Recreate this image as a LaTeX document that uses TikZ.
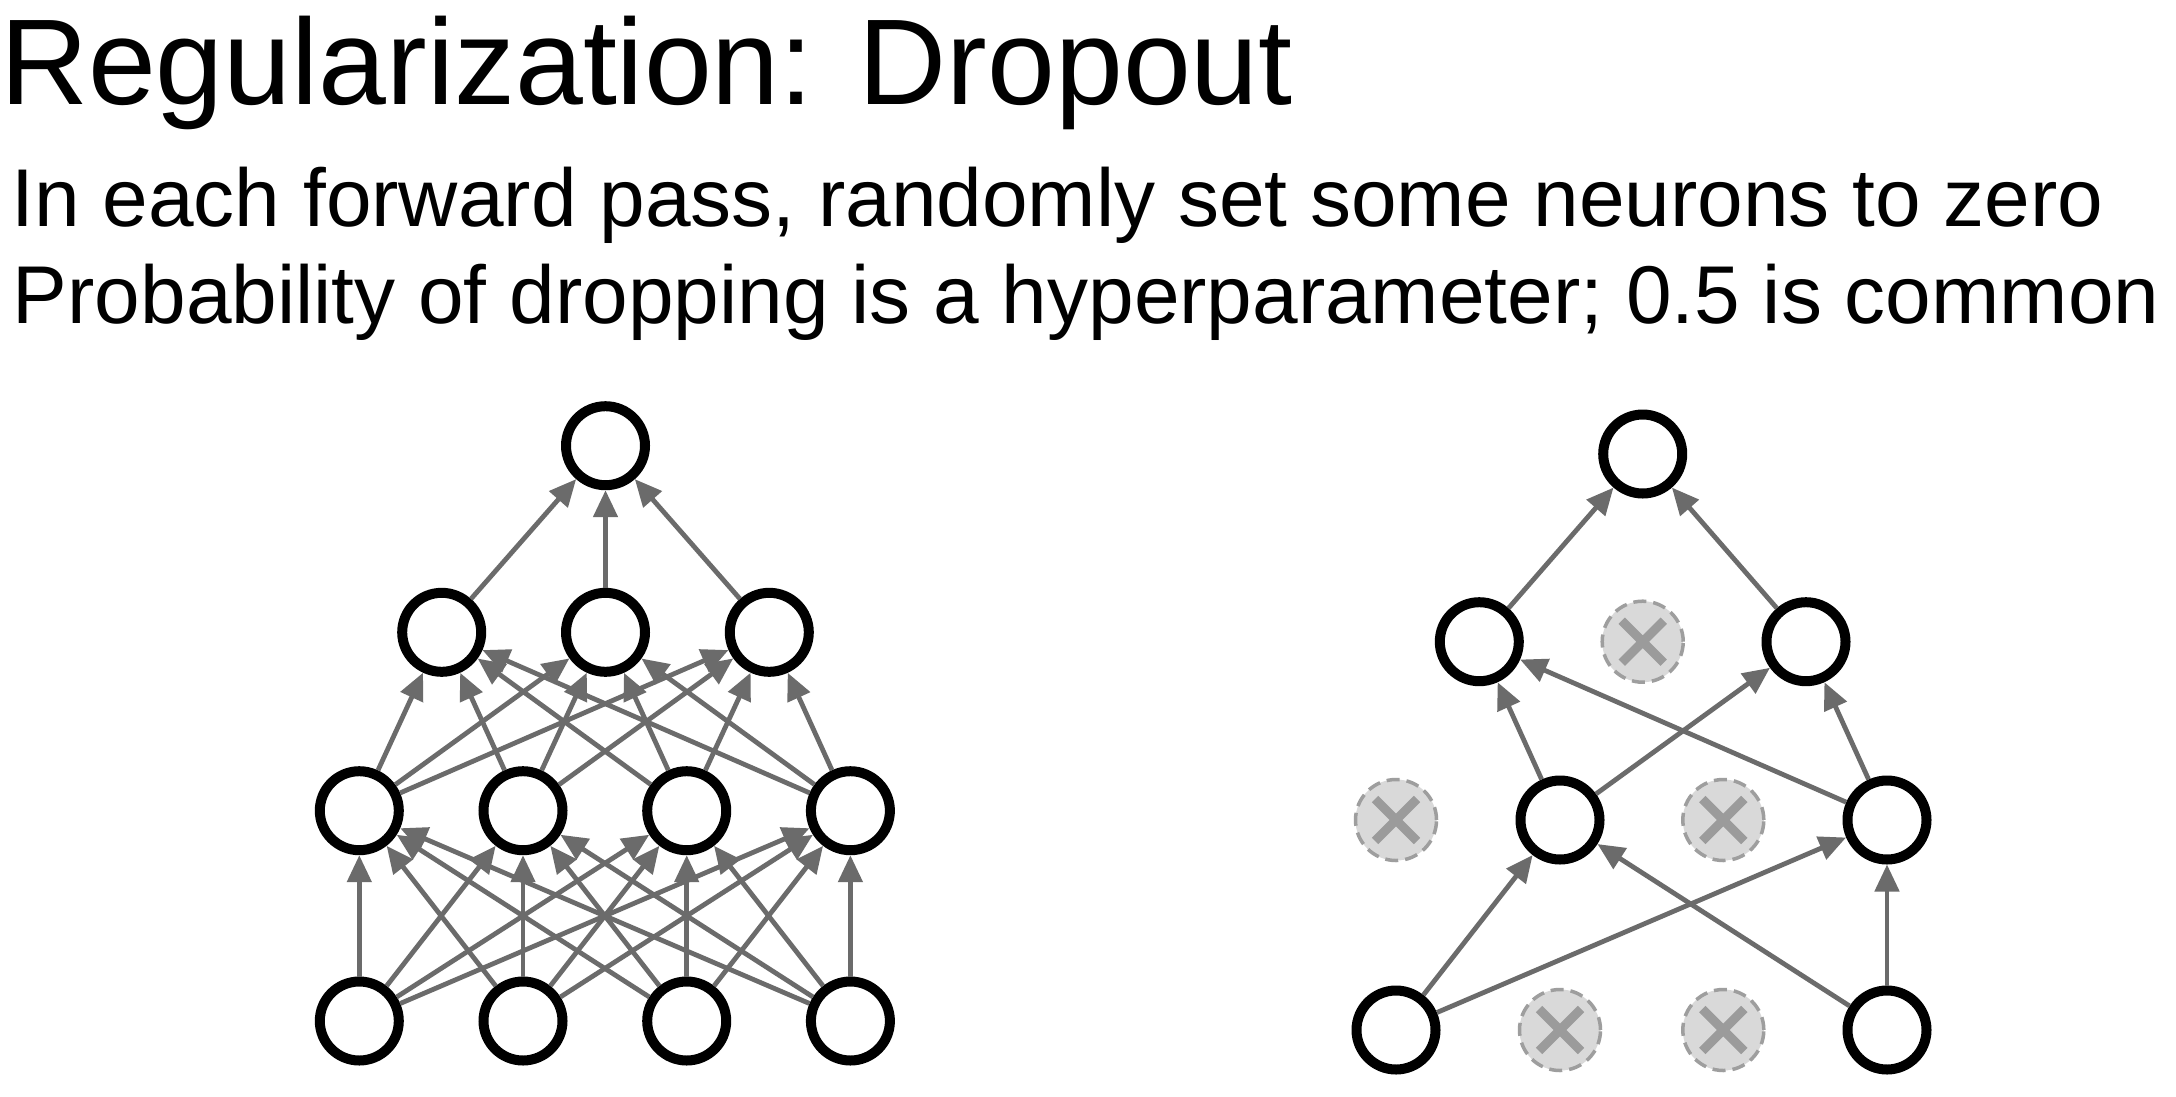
\documentclass[tikz,border=0pt]{standalone}
\usepackage{fontspec}
\setmainfont{Liberation Sans}
\usetikzlibrary{arrows.meta}
\definecolor{edgegray}{HTML}{6B6B6B}
\definecolor{dropfill}{HTML}{D9D9D9}
\definecolor{dropline}{HTML}{9E9E9E}
\definecolor{xgray}{HTML}{9B9B9B}
\begin{document}
\begin{tikzpicture}[x=1pt,y=-1pt,
  neuron/.style={circle, draw=black, line width=10pt, fill=white, minimum size=79pt, inner sep=0pt},
  dropped/.style={circle, draw=dropline, line width=3.5pt, dash pattern=on 13pt off 7pt, fill=dropfill,
    minimum size=81pt, inner sep=0pt,
    path picture={\draw[xgray, solid, line width=9pt]
      ([shift={(-21pt,-21pt)}]path picture bounding box.center) -- ([shift={(21pt,21pt)}]path picture bounding box.center)
      ([shift={(-21pt,21pt)}]path picture bounding box.center) -- ([shift={(21pt,-21pt)}]path picture bounding box.center);}},
  conn/.style={draw=edgegray, line width=4.8pt, -{Triangle[length=27pt,width=24pt]}},
  txt/.style={anchor=base west, inner sep=0pt, outer sep=0pt},
]
\useasboundingbox[fill=white] (0,0) rectangle (2176,1096);

% text
\node[txt, font=\fontsize{122}{140}\selectfont] (title) at (0,104) {Regularization: Dropout};
\node[txt, font=\fontsize{82}{95}\selectfont] (line1) at (11.6,226.7) {In each forward pass, randomly set some neurons to zero};
\node[txt, font=\fontsize{82}{95}\selectfont] (line2) at (12.9,323.3) {Probability of dropping is a hyperparameter; 0.5 is common};

% left network
\node[neuron] (Lt) at (605.5,445.7) {};
\foreach \i/\x in {1/441.7,2/605.5,3/769.3}
  \node[neuron] (Lb\i) at (\x,632.3) {};
\foreach \i/\x in {1/359.3,2/523,3/686.7,4/850.4} {
  \node[neuron] (Lc\i) at (\x,810.7) {};
  \node[neuron] (Ld\i) at (\x,1021) {};
}
\foreach \i in {1,2,3}
  \draw[conn] (Lb\i) -- (Lt);
\foreach \i in {1,2,3,4}
  \foreach \j in {1,2,3}
    \draw[conn] (Lc\i) -- (Lb\j);
\foreach \i in {1,2,3,4}
  \foreach \j in {1,2,3,4}
    \draw[conn] (Ld\i) -- (Lc\j);

% right network
\node[neuron] (Rt) at (1642.7,454) {};
\node[neuron] (Rb1) at (1479.3,641.7) {};
\node[dropped] (Rb2) at (1642.7,641.7) {};
\node[neuron] (Rb3) at (1806,641.7) {};
\node[dropped] (Rc1) at (1396,820) {};
\node[neuron] (Rc2) at (1560,820) {};
\node[dropped] (Rc3) at (1723.3,820) {};
\node[neuron] (Rc4) at (1887,820) {};
\node[neuron] (Rd1) at (1396,1030) {};
\node[dropped] (Rd2) at (1560,1030) {};
\node[dropped] (Rd3) at (1723.3,1030) {};
\node[neuron] (Rd4) at (1887,1030) {};
\draw[conn] (Rb1) -- (Rt);
\draw[conn] (Rb3) -- (Rt);
\draw[conn] (Rc2) -- (Rb1);
\draw[conn] (Rc2) -- (Rb3);
\draw[conn] (Rc4) -- (Rb1);
\draw[conn] (Rc4) -- (Rb3);
\draw[conn] (Rd1) -- (Rc2);
\draw[conn] (Rd1) -- (Rc4);
\draw[conn] (Rd4) -- (Rc2);
\draw[conn] (Rd4) -- (Rc4);
\end{tikzpicture}
\end{document}
